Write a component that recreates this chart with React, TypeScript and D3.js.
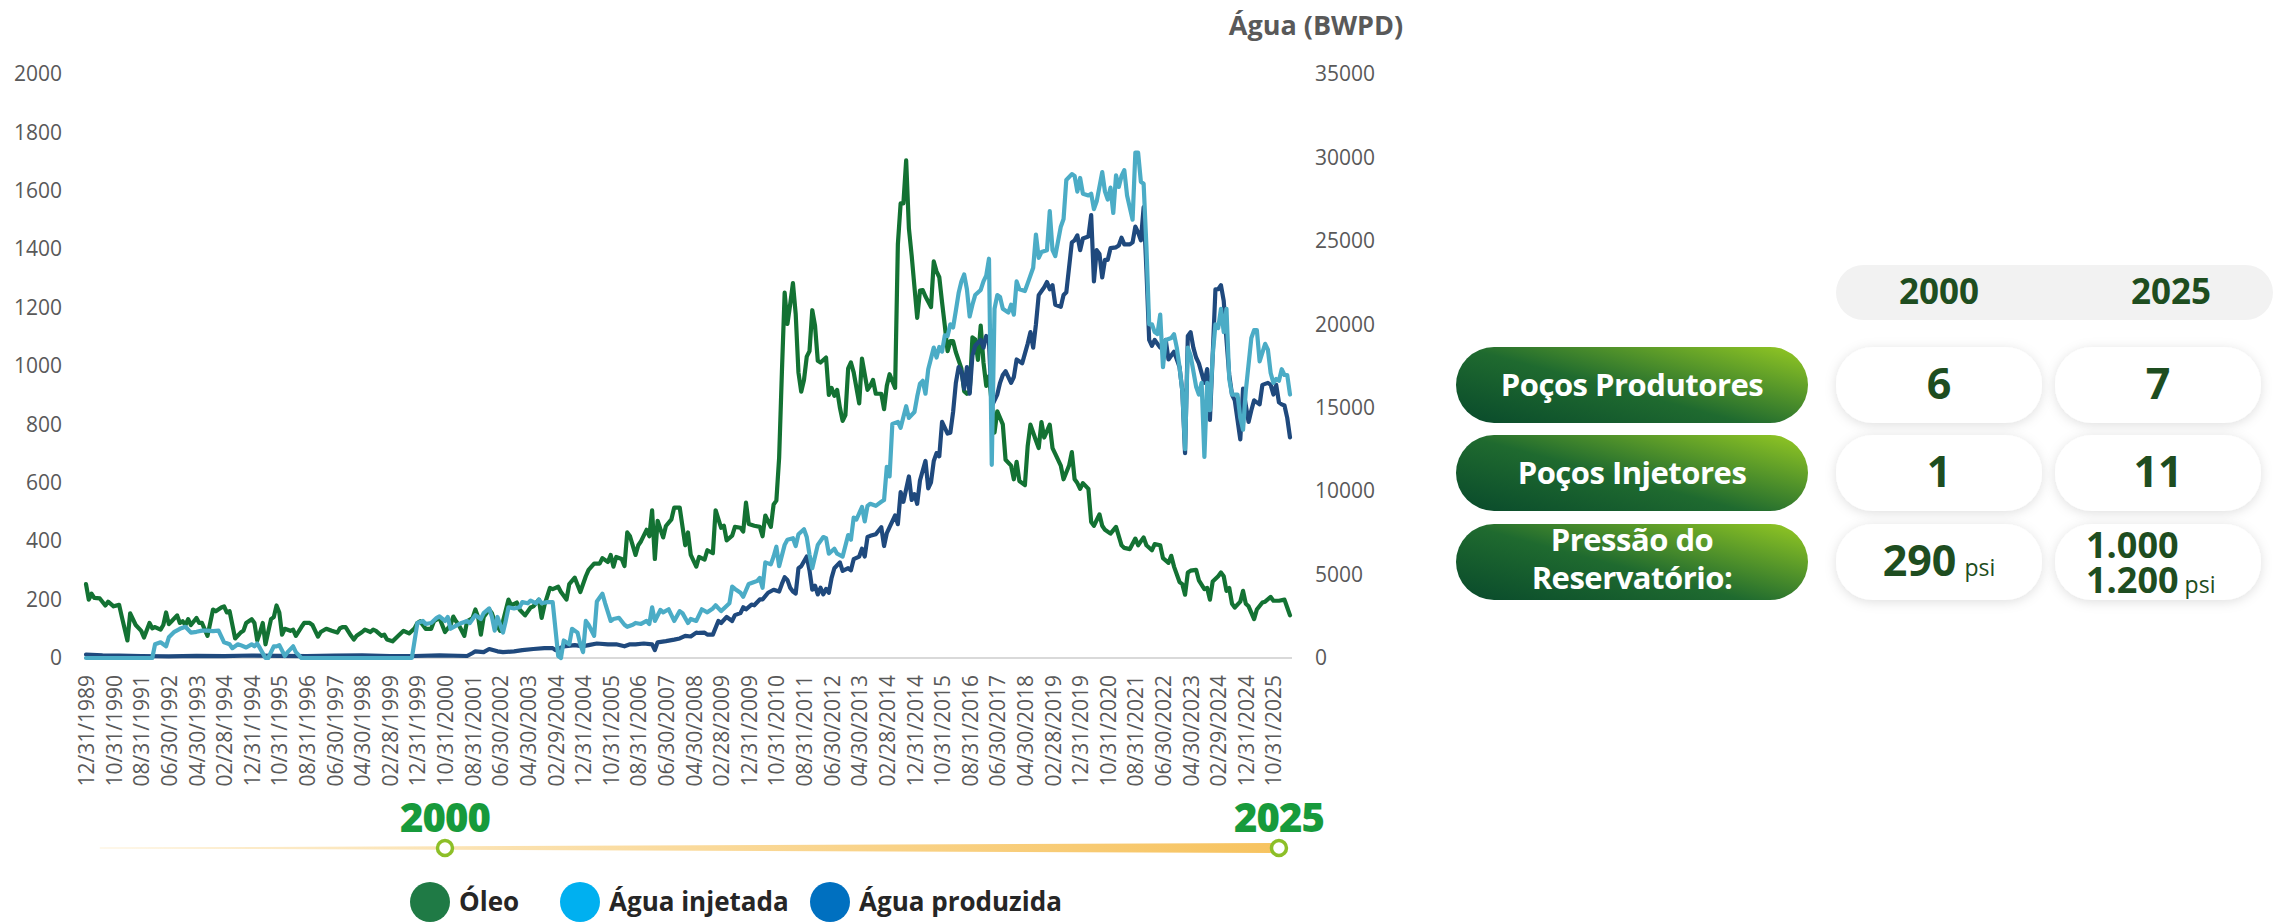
import * as React from 'react';
import { useEffect, useRef } from 'react';
import * as d3 from 'd3';

type Pt = [number, number];

// x = months counted from 12/1989 (index 0), one label every 10 months
const tickLabels = [
  '12/31/1989', '10/31/1990', '08/31/1991', '06/30/1992', '04/30/1993', '02/28/1994', '12/31/1994',
  '10/31/1995', '08/31/1996', '06/30/1997', '04/30/1998', '02/28/1999', '12/31/1999', '10/31/2000',
  '08/31/2001', '06/30/2002', '04/30/2003', '02/29/2004', '12/31/2004', '10/31/2005', '08/31/2006',
  '06/30/2007', '04/30/2008', '02/28/2009', '12/31/2009', '10/31/2010', '08/31/2011', '06/30/2012',
  '04/30/2013', '02/28/2014', '12/31/2014', '10/31/2015', '08/31/2016', '06/30/2017', '04/30/2018',
  '02/28/2019', '12/31/2019', '10/31/2020', '08/31/2021', '06/30/2022', '04/30/2023', '02/29/2024',
  '12/31/2024', '10/31/2025',
];

const leftTicks = [0, 200, 400, 600, 800, 1000, 1200, 1400, 1600, 1800, 2000];
const rightTicks = [0, 5000, 10000, 15000, 20000, 25000, 30000, 35000];

// Óleo (left axis)
const oleo: Pt[] = [
  [0, 253], [1, 200], [2, 220], [3, 206], [5, 204], [7, 180], [8, 193], [10, 177], [12, 182], [13, 140],
  [15, 60], [16, 153], [18, 113], [20, 93], [21, 70], [23, 120], [24, 102], [25, 106], [27, 97], [28, 113],
  [29, 156], [30, 116], [31, 126], [33, 146], [34, 120], [35, 126], [36, 113], [37, 133], [38, 113], [40, 137],
  [41, 120], [42, 120], [44, 76], [46, 166], [47, 160], [49, 173], [50, 177], [51, 156], [52, 160], [54, 67],
  [56, 87], [57, 93], [58, 120], [60, 133], [61, 120], [62, 60], [63, 87], [64, 120], [65, 47], [67, 133],
  [68, 140], [69, 180], [70, 156], [71, 80], [72, 100], [74, 93], [75, 97], [76, 76], [78, 106], [79, 120],
  [81, 120], [82, 113], [84, 73], [85, 89], [87, 100], [89, 93], [91, 87], [92, 102], [93, 106], [94, 106],
  [96, 76], [97, 63], [98, 76], [100, 89], [101, 97], [103, 89], [104, 97], [105, 93], [107, 76], [108, 80],
  [109, 63], [111, 57], [113, 75], [115, 93], [117, 84], [119, 102], [120, 120], [121, 126], [122, 113], [123, 100],
  [125, 100], [126, 126], [128, 137], [130, 89], [132, 113], [133, 142], [134, 126], [135, 113], [137, 76], [138, 126],
  [140, 137], [141, 166], [142, 140], [143, 80], [144, 140], [146, 166], [147, 153], [148, 126], [150, 93], [151, 126],
  [153, 200], [154, 180], [156, 190], [157, 166], [159, 146], [161, 173], [162, 177], [164, 200], [165, 137], [166, 180],
  [168, 240], [169, 236], [171, 244], [172, 226], [174, 200], [175, 253], [177, 275], [179, 226], [181, 280], [182, 302],
  [184, 323], [186, 323], [187, 342], [189, 329], [190, 353], [191, 313], [192, 346], [194, 339], [195, 315], [196, 430],
  [197, 417], [199, 353], [200, 386], [201, 400], [203, 439], [204, 417], [205, 506], [206, 339], [207, 470], [209, 413],
  [210, 452], [212, 475], [213, 515], [215, 515], [217, 386], [218, 430], [219, 353], [221, 313], [222, 346], [224, 337],
  [225, 369], [227, 359], [228, 506], [230, 446], [231, 453], [232, 403], [234, 419], [235, 449], [237, 446], [238, 433],
  [239, 532], [240, 459], [242, 453], [244, 449], [245, 417], [246, 488], [248, 449], [249, 526], [250, 539], [251, 685],
  [252, 978], [253, 1251], [254, 1144], [255, 1211], [256, 1284], [257, 1178], [258, 978], [259, 912], [260, 952], [261, 1032],
  [262, 1051], [263, 1191], [264, 1138], [265, 1018], [266, 1012], [268, 1029], [269, 901], [270, 925], [271, 898], [272, 918],
  [273, 858], [274, 812], [275, 832], [276, 992], [277, 1012], [278, 978], [280, 872], [281, 1025], [283, 918], [284, 932],
  [285, 952], [286, 905], [288, 905], [289, 852], [290, 932], [291, 972], [293, 925], [294, 1417], [295, 1557], [296, 1557],
  [297, 1704], [298, 1471], [299, 1378], [301, 1165], [302, 1258], [303, 1260], [304, 1238], [306, 1202], [307, 1358], [308, 1324],
  [309, 1304], [310, 1218], [311, 1138], [312, 1051], [313, 1085], [314, 1085], [315, 1047], [317, 992], [318, 914], [319, 905],
  [320, 912], [321, 1098], [322, 1091], [323, 1021], [324, 1138], [325, 1012], [326, 932], [327, 965], [328, 872], [329, 772],
  [330, 845], [332, 800], [333, 679], [335, 659], [336, 612], [337, 672], [338, 606], [340, 592], [341, 725], [342, 799],
  [344, 745], [345, 719], [346, 808], [347, 755], [349, 799], [350, 719], [351, 699], [353, 659], [354, 612], [356, 659],
  [357, 705], [358, 612], [359, 599], [360, 579], [361, 599], [363, 579], [364, 466], [365, 453], [367, 492], [368, 453],
  [369, 439], [371, 426], [373, 449], [375, 386], [376, 377], [378, 373], [380, 409], [381, 386], [383, 413], [384, 386],
  [386, 369], [387, 390], [389, 386], [390, 342], [392, 326], [393, 350], [394, 313], [396, 260], [397, 253], [398, 217],
  [399, 293], [400, 299], [402, 302], [403, 266], [405, 236], [406, 240], [407, 200], [408, 262], [410, 280], [411, 293],
  [412, 280], [413, 230], [414, 240], [415, 186], [416, 173], [418, 193], [419, 230], [420, 186], [421, 177], [423, 133],
  [424, 166], [426, 190], [427, 193], [429, 209], [430, 196], [432, 196], [434, 200], [435, 173], [436, 146],
];

// Água injetada (right axis, BWPD)
const aguaInjetada: Pt[] = [
  [0, 0], [24, 0], [25, 820], [27, 940], [29, 700], [30, 1240], [32, 1570], [34, 1750], [36, 1870], [38, 1520],
  [40, 1570], [42, 1640], [44, 1640], [46, 1610], [48, 1640], [50, 940], [52, 820], [53, 590], [55, 820], [56, 770],
  [58, 630], [60, 820], [61, 700], [62, 870], [63, 590], [65, 0], [66, 0], [68, 700], [69, 700], [70, 770],
  [72, 120], [73, 350], [75, 700], [76, 350], [78, 0], [118, 0], [120, 2100], [122, 2220], [123, 2040], [125, 2100],
  [127, 2410], [128, 2500], [130, 2220], [131, 2460], [132, 1750], [134, 1940], [136, 2100], [138, 2220], [139, 2100], [141, 2570],
  [143, 2340], [144, 2690], [146, 2970], [147, 2460], [148, 1640], [149, 2460], [151, 1520], [152, 2220], [153, 3040], [155, 2970],
  [157, 3040], [158, 3350], [160, 3280], [161, 3440], [163, 3280], [164, 3510], [165, 3280], [167, 3350], [169, 3350], [171, 120],
  [172, 0], [173, 1050], [175, 820], [176, 1750], [178, 1520], [179, 820], [180, 350], [181, 2220], [182, 1990], [184, 1330],
  [185, 3390], [187, 3860], [188, 3280], [190, 2220], [191, 2340], [193, 2410], [195, 1990], [196, 1870], [198, 1990], [199, 2100],
  [201, 2040], [203, 2220], [204, 2040], [205, 3040], [206, 2220], [208, 2880], [209, 2740], [211, 2920], [213, 2220], [215, 2810],
  [216, 2690], [218, 2100], [219, 2340], [221, 2220], [223, 2920], [225, 2740], [227, 2970], [228, 3160], [230, 2810], [231, 2970],
  [233, 3280], [234, 4280], [235, 4140], [237, 3910], [238, 3670], [240, 4440], [242, 4560], [243, 4610], [244, 4800], [245, 4210],
  [246, 5730], [248, 5610], [249, 6080], [250, 6670], [251, 5500], [253, 6780], [254, 7090], [256, 7180], [257, 6710], [258, 7420],
  [260, 7720], [261, 7250], [262, 6200], [263, 5380], [265, 6780], [267, 7250], [268, 7180], [269, 6250], [271, 6550], [272, 6250],
  [274, 6080], [276, 7370], [277, 7090], [278, 8420], [279, 8300], [281, 9050], [282, 8190], [283, 9120], [284, 9240], [286, 9120],
  [288, 9360], [289, 9470], [290, 11460], [291, 10880], [292, 14030], [294, 14150], [295, 13800], [297, 15090], [298, 14390], [300, 14740],
  [301, 15670], [302, 16440], [303, 16610], [304, 15840], [305, 17310], [307, 18600], [308, 18010], [309, 18640], [310, 18360], [311, 19340],
  [312, 19300], [313, 20000], [314, 19810], [315, 20820], [316, 21870], [317, 22570], [318, 22990], [319, 22100], [320, 20470], [321, 21170],
  [322, 21750], [324, 22060], [325, 22570], [326, 22920], [327, 23930], [328, 11580], [329, 20930], [330, 21750], [331, 21640], [332, 20930],
  [334, 20700], [335, 21170], [336, 20580], [337, 22570], [338, 22100], [340, 21990], [341, 22450], [343, 23390], [344, 25380], [345, 23980],
  [346, 24330], [348, 24440], [349, 26780], [350, 24440], [351, 24090], [353, 25850], [354, 26310], [355, 28650], [357, 29000], [358, 28890],
  [359, 27950], [360, 28770], [361, 27830], [363, 27720], [364, 27830], [365, 26900], [366, 27370], [368, 29120], [369, 27950], [370, 27480],
  [371, 28190], [372, 26670], [373, 28930], [374, 28230], [375, 28890], [376, 29240], [377, 27720], [379, 26270], [380, 30290], [381, 30290],
  [382, 28540], [383, 28420], [384, 24680], [385, 20000], [386, 20000], [387, 19530], [388, 19410], [389, 20580], [390, 17430], [391, 19060],
  [393, 19180], [394, 19410], [395, 18600], [396, 17430], [397, 16020], [398, 12510], [399, 18600], [400, 18130], [402, 16260], [403, 15790],
  [404, 16490], [405, 12050], [406, 16490], [407, 14850], [408, 18130], [409, 20000], [410, 19770], [411, 20930], [412, 19530], [413, 20930],
  [414, 16720], [415, 15790], [417, 15790], [418, 14390], [419, 13680], [420, 16020], [422, 19180], [423, 19650], [424, 19650], [425, 17780],
  [427, 18830], [428, 18480], [429, 17080], [430, 16490], [431, 16720], [432, 16610], [433, 17310], [434, 16960], [435, 16960], [436, 15790],
];

// Água produzida (right axis, BWPD)
const aguaProduzida: Pt[] = [
  [0, 210], [6, 160], [12, 150], [20, 120], [30, 100], [40, 130], [50, 110], [60, 150], [70, 130], [80, 110],
  [90, 140], [100, 160], [110, 120], [119, 120], [128, 160], [138, 120], [140, 300], [141, 400], [144, 350], [146, 540],
  [149, 400], [151, 350], [155, 400], [158, 470], [162, 540], [166, 590], [169, 590], [170, 470], [173, 700], [177, 770],
  [180, 700], [182, 770], [185, 870], [189, 820], [192, 820], [195, 700], [197, 820], [199, 820], [202, 870], [205, 820],
  [206, 470], [207, 940], [210, 1010], [213, 1100], [215, 1170], [217, 1330], [219, 1290], [221, 1520], [222, 1500], [224, 1520],
  [225, 1400], [227, 1400], [229, 2220], [230, 2100], [232, 2460], [234, 2220], [235, 2570], [237, 2690], [238, 3040], [239, 2920],
  [241, 3200], [242, 3160], [244, 3510], [245, 3510], [247, 3910], [249, 4090], [251, 3980], [252, 4440], [253, 4840], [254, 4680],
  [255, 4210], [256, 3980], [257, 3860], [258, 5380], [259, 5500], [261, 6080], [262, 5260], [263, 4090], [264, 4330], [265, 3810],
  [266, 4210], [267, 3810], [268, 4140], [269, 3910], [270, 4800], [271, 5380], [273, 5730], [274, 5220], [276, 5380], [277, 5260],
  [278, 5920], [280, 6080], [281, 6550], [282, 6080], [283, 7250], [284, 7320], [286, 7420], [288, 7840], [289, 6710], [290, 7490],
  [291, 7840], [293, 8540], [294, 8020], [295, 9940], [296, 9360], [298, 10880], [299, 9470], [300, 9820], [301, 9240], [302, 10640],
  [304, 11810], [305, 10170], [306, 10530], [307, 11810], [308, 12280], [309, 12090], [310, 14150], [312, 13450], [313, 13500], [314, 14740],
  [315, 16490], [316, 17430], [317, 17190], [318, 16140], [319, 17430], [320, 15840], [321, 18130], [322, 18710], [324, 19060], [325, 18600],
  [326, 19300], [327, 18950], [328, 15090], [330, 15790], [331, 16490], [332, 16960], [333, 17190], [335, 16490], [336, 16840], [337, 17890],
  [339, 17660], [340, 18240], [341, 18830], [342, 19530], [343, 18600], [344, 20000], [345, 21750], [347, 22220], [348, 22530], [349, 22100],
  [350, 22340], [351, 21170], [353, 21050], [354, 21750], [355, 21920], [357, 24910], [358, 25030], [359, 25330], [360, 24440], [361, 25140],
  [363, 25260], [364, 26550], [365, 22570], [366, 24440], [367, 24210], [368, 22810], [369, 23860], [370, 23860], [371, 24560], [373, 24610],
  [374, 24720], [375, 25190], [376, 24790], [378, 24790], [379, 24910], [380, 25850], [381, 25500], [382, 25030], [383, 27020], [384, 23270],
  [385, 19060], [386, 18710], [387, 19060], [389, 18600], [391, 19060], [392, 17890], [393, 18130], [394, 18360], [396, 17430], [397, 16020],
  [398, 12280], [399, 19300], [400, 19530], [401, 18600], [402, 18010], [403, 17660], [405, 16490], [406, 17310], [407, 14270], [408, 18130],
  [409, 22100], [410, 22100], [411, 22340], [412, 21400], [413, 19060], [414, 16960], [415, 15790], [416, 15440], [418, 13100], [419, 16140],
  [421, 14150], [422, 14850], [423, 15440], [425, 15200], [426, 16370], [428, 16490], [429, 16370], [430, 15790], [431, 16370], [432, 15320],
  [433, 15200], [434, 15130], [435, 14390], [436, 13220],
];

const legendLabels = ['Óleo', 'Água injetada', 'Água produzida'];
const legendColors = ['#1f7a45', '#00b0f0', '#0070c0'];

const tableYears = ['2000', '2025'];
const rowLabels = [['Poços Produtores'], ['Poços Injetores'], ['Pressão do', 'Reservatório:']];
const produtores = ['6', '7'];
const injetores = ['1', '11'];
const pressao2000 = '290';
const pressao2025 = ['1.000', '1.200'];

const GRAY = '#595959';
const DARK = '#1e4d20';

export default function App() {
  const ref = useRef<SVGSVGElement>(null);

  useEffect(() => {
    const svg = d3.select(ref.current);
    svg.selectAll('*').remove();

    const defs = svg.append('defs');
    const pill = defs.append('linearGradient').attr('id', 'pillGrad')
      .attr('x1', 0).attr('y1', 0.9).attr('x2', 1).attr('y2', 0.1);
    pill.append('stop').attr('offset', 0).attr('stop-color', '#0b4d2c');
    pill.append('stop').attr('offset', 0.45).attr('stop-color', '#1f6a2f');
    pill.append('stop').attr('offset', 1).attr('stop-color', '#8cc224');
    const bar = defs.append('linearGradient').attr('id', 'barGrad').attr('x1', 0).attr('x2', 1).attr('y1', 0).attr('y2', 0);
    bar.append('stop').attr('offset', 0).attr('stop-color', '#fdf1d8');
    bar.append('stop').attr('offset', 1).attr('stop-color', '#f7c35f');
    defs.append('filter').attr('id', 'soft').attr('x', '-20%').attr('y', '-30%').attr('width', '140%').attr('height', '160%')
      .append('feDropShadow').attr('dx', 0).attr('dy', 2).attr('stdDeviation', 6)
      .attr('flood-color', '#000').attr('flood-opacity', 0.13);

    const x = d3.scaleLinear().domain([0, 436]).range([86, 1290]);
    const yL = d3.scaleLinear().domain([0, 2000]).range([658, 74]);
    const yR = d3.scaleLinear().domain([0, 35000]).range([658, 74]);

    // baseline
    svg.append('line').attr('x1', 84).attr('x2', 1292).attr('y1', yL(0)).attr('y2', yL(0))
      .attr('stroke', '#d9d9d9').attr('stroke-width', 2);

    const styleAxis = (g: any) => {
      g.select('.domain').remove();
      g.selectAll('text').attr('fill', GRAY).style('font-size', '21px')
        .style('font-family', '"Open Sans", sans-serif');
    };

    svg.append('g').attr('transform', 'translate(62,0)')
      .call(d3.axisLeft(yL).tickValues(leftTicks).tickSize(0).tickPadding(0).tickFormat(d3.format('d')))
      .call(styleAxis);
    svg.append('g').attr('transform', 'translate(1315,0)')
      .call(d3.axisRight(yR).tickValues(rightTicks).tickSize(0).tickPadding(0).tickFormat(d3.format('d')))
      .call(styleAxis);

    const xg = svg.append('g').attr('transform', 'translate(0,675)')
      .call(d3.axisBottom(x).tickValues(d3.range(0, tickLabels.length * 10, 10))
        .tickSize(0).tickFormat((d: any, i: number) => tickLabels[i]))
      .call(styleAxis);
    xg.selectAll('text').attr('transform', 'rotate(-90)').attr('text-anchor', 'end')
      .attr('x', 0).attr('y', 0).attr('dy', '0.36em');

    svg.append('text').attr('x', 1316).attr('y', 35).attr('text-anchor', 'middle')
      .attr('fill', GRAY).style('font-size', '27px').style('font-weight', 700)
      .style('font-family', '"Open Sans", sans-serif').text('Água (BWPD)');

    const lineL = d3.line<Pt>().x(d => x(d[0])).y(d => yL(d[1]));
    const lineR = d3.line<Pt>().x(d => x(d[0])).y(d => yR(d[1]));
    const series: [Pt[], any, string][] = [
      [oleo, lineL, '#137233'],
      [aguaProduzida, lineR, '#1f497d'],
      [aguaInjetada, lineR, '#4bacc6'],
    ];
    series.forEach(([data, gen, color]) => {
      svg.append('path').datum(data).attr('d', gen).attr('fill', 'none')
        .attr('stroke', color).attr('stroke-width', 4.2)
        .attr('stroke-linejoin', 'round').attr('stroke-linecap', 'round');
    });

    // timeline 2000 -> 2025
    const tlY = 848;
    const t0 = x(130), t1 = x(432);
    svg.append('path')
      .attr('d', `M${x(5)},${tlY - 0.5} L${t1},${tlY - 5} L${t1},${tlY + 5} L${x(5)},${tlY + 0.5} Z`)
      .attr('fill', 'url(#barGrad)');
    [[t0, '2000'], [t1, '2025']].forEach(([cx, label]) => {
      svg.append('circle').attr('cx', cx as number).attr('cy', tlY).attr('r', 7.5)
        .attr('fill', '#fff').attr('stroke', '#8dbf28').attr('stroke-width', 3.5);
      svg.append('text').attr('x', cx as number).attr('y', 832).attr('text-anchor', 'middle')
        .attr('fill', '#179a3b').style('font-size', '40px').style('font-weight', 800)
        .style('font-family', '"Open Sans", sans-serif').style('letter-spacing', '-1px')
        .text(label as string);
    });

    // legend
    const legX = [430, 580, 830];
    legendLabels.forEach((label, i) => {
      svg.append('circle').attr('cx', legX[i]).attr('cy', 902).attr('r', 20).attr('fill', legendColors[i]);
      svg.append('text').attr('x', legX[i] + 29).attr('y', 911).attr('fill', '#262626')
        .style('font-size', '26px').style('font-weight', 700)
        .style('font-family', '"Open Sans", sans-serif').text(label);
    });

    // table
    const tbl = svg.append('g').style('font-family', '"Open Sans", sans-serif');
    tbl.append('rect').attr('x', 1836).attr('y', 265).attr('width', 437).attr('height', 55)
      .attr('rx', 27.5).attr('fill', '#f2f2f2');
    const colX = [1939, 2158];
    tableYears.forEach((yr, i) => {
      tbl.append('text').attr('x', i === 0 ? 1939 : 2171).attr('y', 304).attr('text-anchor', 'middle')
        .attr('fill', DARK).style('font-size', '35px').style('font-weight', 700).text(yr);
    });

    const rowTop = [347, 435, 524];
    const rowH = 76;
    rowLabels.forEach((lines, r) => {
      const cy = rowTop[r] + rowH / 2;
      tbl.append('rect').attr('x', 1456).attr('y', rowTop[r]).attr('width', 352).attr('height', rowH)
        .attr('rx', rowH / 2).attr('fill', 'url(#pillGrad)');
      lines.forEach((ln, k) => {
        const by = lines.length === 1 ? cy + 11 : cy - 11 + k * 38;
        tbl.append('text').attr('x', 1632).attr('y', by).attr('text-anchor', 'middle')
          .attr('fill', '#fff').style('font-size', '31px').style('font-weight', 700)
          .style('letter-spacing', '-0.5px').text(ln);
      });
      [1836, 2055].forEach(cx => {
        tbl.append('rect').attr('x', cx).attr('y', rowTop[r]).attr('width', 206).attr('height', rowH)
          .attr('rx', 37).attr('fill', '#fff').attr('filter', 'url(#soft)');
      });
    });

    [produtores, injetores].forEach((vals, r) => {
      const cy = rowTop[r] + rowH / 2;
      vals.forEach((v, i) => {
        tbl.append('text').attr('x', colX[i]).attr('y', cy + 14).attr('text-anchor', 'middle')
          .attr('fill', DARK).style('font-size', '43px').style('font-weight', 700).text(v);
      });
    });

    const cy3 = rowTop[2] + rowH / 2;
    const t290 = tbl.append('text').attr('x', colX[0]).attr('y', cy3 + 14).attr('text-anchor', 'middle').attr('fill', DARK);
    t290.append('tspan').style('font-size', '43px').style('font-weight', 700).text(pressao2000);
    t290.append('tspan').attr('dx', 8).style('font-size', '23px').text('psi');

    tbl.append('text').attr('x', 2086).attr('y', cy3 - 4).attr('fill', DARK)
      .style('font-size', '36px').style('font-weight', 700).text(pressao2025[0]);
    const t12 = tbl.append('text').attr('x', 2086).attr('y', cy3 + 31).attr('fill', DARK);
    t12.append('tspan').style('font-size', '36px').style('font-weight', 700).text(pressao2025[1]);
    t12.append('tspan').attr('dx', 6).style('font-size', '23px').text('psi');
  }, []);

  return (
    <svg ref={ref} width={2278} height={922}
      style={{ position: 'absolute', left: 0, top: 0, background: '#fff' }} />
  );
}
